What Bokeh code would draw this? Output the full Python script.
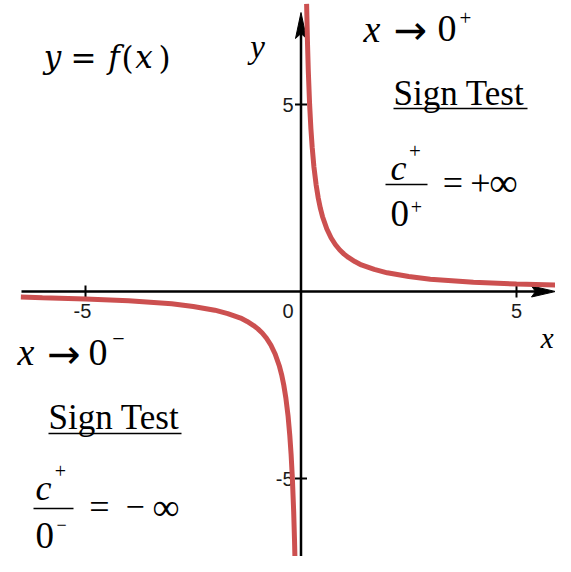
import numpy as np
from bokeh.plotting import figure
from bokeh.models import Range1d
from bokeh.core.properties import value
from bokeh.embed import file_html
from bokeh.resources import INLINE

right_x = [0.13, 0.15, 0.17, 0.2, 0.23, 0.26, 0.3, 0.35, 0.4, 0.45, 0.5, 0.6, 0.7, 0.8,
           0.9, 1.0, 1.1, 1.25, 1.4, 1.7, 2.0, 2.5, 3.0, 3.5, 4.0, 5.0, 6.0, 6.3]
right_y = [7.69, 6.67, 5.88, 5.0, 4.35, 3.85, 3.33, 2.86, 2.5, 2.22, 2.0, 1.67, 1.43, 1.25,
           1.11, 1.0, 0.91, 0.8, 0.71, 0.59, 0.5, 0.4, 0.33, 0.29, 0.25, 0.2, 0.17, 0.16]
left_x = [-6.5, -6.0, -5.0, -4.0, -3.5, -3.0, -2.5, -2.0, -1.7, -1.4, -1.25, -1.1, -1.0, -0.9,
          -0.8, -0.7, -0.6, -0.5, -0.45, -0.4, -0.35, -0.3, -0.26, -0.23, -0.2, -0.17, -0.15, -0.135]
left_y = [-0.15, -0.17, -0.2, -0.25, -0.29, -0.33, -0.4, -0.5, -0.59, -0.71, -0.8, -0.91, -1.0, -1.11,
          -1.25, -1.43, -1.67, -2.0, -2.22, -2.5, -2.86, -3.33, -3.85, -4.35, -5.0, -5.88, -6.67, -7.41]
x_ticks = [-5, 5]
y_ticks = [-5, 5]
x_tick_labels = ["-5", "5"]
y_tick_labels = ["-5", "5"]

# ---- layout helpers: picture pixel -> data ----
OX, OY = 300.5, 291.0      # origin in pixels
KX, KY = 43.1, 37.4        # pixels per unit
def sx(X):
    return (X - OX) / KX
def sy(Y):
    return (OY - Y) / KY

W, H = 555, 556
p = figure(width=W, height=H, output_backend="svg", toolbar_location=None,
           x_axis_type=None, y_axis_type=None,
           x_range=Range1d(sx(0), sx(W)), y_range=Range1d(sy(H), sy(0)),
           min_border=0)
p.grid.visible = False
p.outline_line_color = None
p.background_fill_color = "white"
p.border_fill_color = "white"

AX = "#000000"
# axes lines
p.line([sx(21), sx(548)], [0, 0], line_color=AX, line_width=2.5)
p.line([0, 0], [sy(580), sy(20)], line_color=AX, line_width=2.5)
# arrow heads
p.patch([0, sx(OX - 5.5), 0, sx(OX + 5.5)], [sy(12), sy(38), sy(33), sy(38)],
        fill_color=AX, line_color=AX, line_width=1)
p.patch([sx(555), sx(531), sx(535), sx(531)], [0, sy(OY - 5.5), 0, sy(OY + 5.5)],
        fill_color=AX, line_color=AX, line_width=1)

# tick marks
p.segment(x0=x_ticks, y0=[-6 / KY] * len(x_ticks), x1=x_ticks, y1=[6 / KY] * len(x_ticks),
          line_color=AX, line_width=2)
p.segment(x0=[-6 / KX] * len(y_ticks), y0=y_ticks, x1=[6 / KX] * len(y_ticks), y1=y_ticks,
          line_color=AX, line_width=2)

TICKF = value("Liberation Sans")
p.text(x=x_ticks, y=[sy(310)] * len(x_ticks), text=x_tick_labels, text_font=TICKF,
       text_font_size="20px", text_align="center", text_baseline="middle",
       x_offset=[-3, 0], text_color="#1a1a1a")
p.text(x=[sx(293)] * len(y_ticks), y=y_ticks, text=y_tick_labels, text_font=TICKF,
       text_font_size="20px", text_align="right", text_baseline="middle", text_color="#1a1a1a")
p.text(x=[sx(293)], y=[sy(310)], text=["0"], text_font=TICKF, text_font_size="20px",
       text_align="right", text_baseline="middle", text_color="#1a1a1a")

# curve
RED = "#cc5050"
p.line(right_x, right_y, line_color=RED, line_width=5)
p.line(left_x, left_y, line_color=RED, line_width=5)

SERIF = "Liberation Serif"
def txt(X, Yc, s, size, font=SERIF, style="normal", align="left"):
    p.text(x=[sx(X)], y=[sy(Yc)], text=[s], text_font=value(font),
           text_font_size=f"{size}px", text_font_style=style,
           text_align=align, text_baseline="middle", text_color="black")

# axis names
txt(257, 46, "y", 33, style="italic", align="center")
txt(553, 337, "x", 29, style="italic", align="right")

# y = f(x)
DJ = "DejaVu Serif"
txt(52, 56, "y", 31, font=DJ, style="italic", align="center")
txt(83, 57, "=", 31, font=DJ, align="center")
txt(113.5, 56, "f", 31, font=DJ, style="italic", align="center")
txt(127, 57, "(", 31, font=DJ, align="center")
txt(143.5, 56, "x", 31, font=DJ, style="italic", align="center")
txt(164, 57, ")", 31, font=DJ, align="center")

# top right: x -> 0+
txt(363, 28, "x", 38, style="italic")
txt(410, 29, "\u2192", 40, font="DejaVu Sans", align="center")
txt(437, 28, "0", 38)
txt(465, 17, "+", 21, align="center")

txt(393, 93, "Sign Test", 35)
p.line([sx(393), sx(527)], [sy(108), sy(108)], line_color="black", line_width=1.5)

txt(390, 167, "c", 36, style="italic")
txt(414.5, 150, "+", 21, align="center")
p.line([sx(385), sx(427)], [sy(184), sy(184)], line_color="black", line_width=1.5)
txt(390, 212.5, "0", 37)
txt(416, 206, "+", 20, align="center")
txt(452.5, 182, "=", 36, align="center")
txt(480, 182, "+", 36, align="center")
txt(503, 182, "\u221e", 40, align="center")

# left: x -> 0-
txt(17, 351.5, "x", 38, style="italic")
txt(63.5, 353, "\u2192", 40, font="DejaVu Sans", align="center")
txt(88, 351.5, "0", 38)
txt(118, 338, "\u2212", 22, align="center")

txt(48, 417, "Sign Test", 35)
p.line([sx(48), sx(181)], [sy(433), sy(433)], line_color="black", line_width=1.5)

txt(35, 487, "c", 36, style="italic")
txt(60, 470, "+", 20, align="center")
p.line([sx(33), sx(73)], [sy(508), sy(508)], line_color="black", line_width=1.5)
txt(35, 534.5, "0", 37)
txt(61, 524, "\u2212", 18, align="center")
txt(99, 506, "=", 36, align="center")
txt(134.5, 506, "\u2212", 34, align="center")
txt(165.5, 506, "\u221e", 38, align="center")

open("out.html", "w").write(file_html(p, INLINE))
